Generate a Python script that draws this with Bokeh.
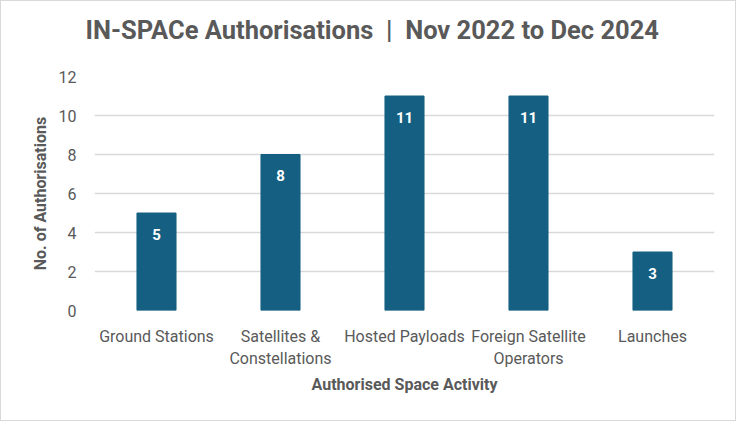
from bokeh.plotting import figure
from bokeh.models import FactorRange, ColumnDataSource, LabelSet
from bokeh.core.properties import value
from bokeh.embed import file_html
from bokeh.resources import INLINE

categories = ["Ground Stations", "Satellites &\nConstellations", "Hosted Payloads",
              "Foreign Satellite\nOperators", "Launches"]
counts = [5, 8, 11, 11, 3]
y_ticks = [0, 2, 4, 6, 8, 10, 12]
title_text = "IN-SPACe Authorisations \u00a0|\u00a0 Nov 2022 to Dec 2024"

TEXT = "#595959"
BAR = "#156082"
FONT = "Roboto"

W, H = 736, 421
p = figure(x_range=FactorRange(*categories), y_range=(0, 12), width=W, height=H,
           output_backend="svg", toolbar_location=None,
           min_border_left=93, min_border_right=23, min_border_top=75, min_border_bottom=112)
p.border_fill_color = "white"
p.outline_line_color = None
p.styles = {"border": "1px solid #d9d9d9", "box-sizing": "border-box"}

p.title.text = title_text + "\n\u00a0"
p.title.align = "left"
p.title.offset = -9
p.title.standoff = 3
p.title.text_color = TEXT
p.title.text_font = FONT
p.title.text_font_style = "bold"
p.title.text_font_size = "25.5px"

src = ColumnDataSource(dict(cat=categories, val=counts, lab=[str(v) for v in counts]))
p.vbar(x="cat", top="val", width=0.315, color=BAR, source=src)
p.add_layout(LabelSet(x="cat", y="val", text="lab", source=src, y_offset=-21,
                      text_align="center", text_baseline="middle", text_color="white",
                      text_font=value(FONT), text_font_style="bold", text_font_size="15px"))

p.xgrid.grid_line_color = None
p.ygrid.grid_line_color = "#d9d9d9"
p.ygrid.grid_line_width = 1.3
p.yaxis.ticker = y_ticks

for ax in (p.xaxis[0], p.yaxis[0]):
    ax.axis_line_color = None
    ax.major_tick_line_color = None
    ax.minor_tick_line_color = None
    ax.major_label_text_color = TEXT
    ax.major_label_text_font = FONT
    ax.major_label_text_font_size = "16px"
    ax.axis_label_text_color = TEXT
    ax.axis_label_text_font = FONT
    ax.axis_label_text_font_style = "bold"
    ax.axis_label_text_font_size = "16px"

p.xaxis.major_label_standoff = 10
p.xaxis.axis_label = "Authorised Space Activity"
p.xaxis.axis_label_standoff = 4
p.yaxis.major_label_standoff = 12
p.yaxis.axis_label = "No. of Authorisations"
p.yaxis.axis_label_standoff = 6

open("out.html", "w").write(file_html(p, INLINE))
